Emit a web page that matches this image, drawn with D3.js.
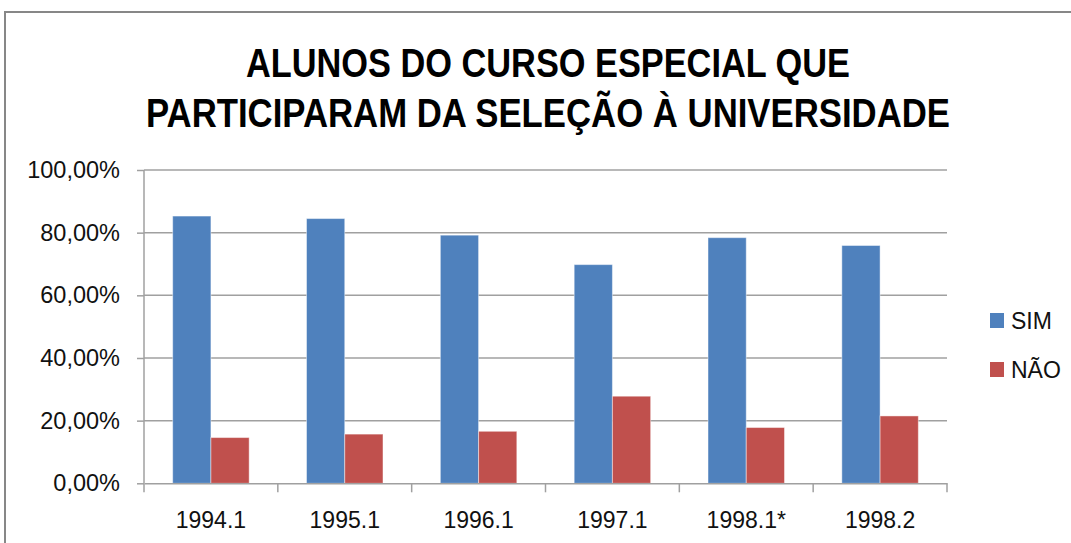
<!DOCTYPE html>
<html>
<head>
<meta charset="utf-8">
<script src="https://cdn.jsdelivr.net/npm/d3@7"></script>
<style>
  body { margin: 0; background: #fff; }
  svg { display: block; font-family: "Liberation Sans", Arial, sans-serif; }
</style>
</head>
<body>
<div id="chart"></div>
<script>
// data (percent)
const categories = ["1994.1", "1995.1", "1996.1", "1997.1", "1998.1*", "1998.2"];
const seriesNames = ["SIM", "NÃO"];
const simValues = [85.3, 84.5, 79.2, 69.8, 78.4, 75.9];
const naoValues = [14.6, 15.7, 16.6, 27.8, 17.8, 21.5];
const yTicks = [0, 20, 40, 60, 80, 100];
const titleLines = ["ALUNOS DO CURSO ESPECIAL QUE", "PARTICIPARAM DA SELEÇÃO À UNIVERSIDADE"];

const colors = { "SIM": "#4f81bd", "NÃO": "#c0504d" };
const W = 1071, H = 543;
const plot = { left: 144, right: 947, top: 170, bottom: 483.3 };

const svg = d3.select("#chart").append("svg")
  .attr("width", W)
  .attr("height", H);

// outer chart border
svg.append("rect")
  .attr("x", 5).attr("y", 12)
  .attr("width", W + 20).attr("height", H + 20)
  .attr("fill", "#fff")
  .attr("stroke", "#878787")
  .attr("stroke-width", 2);

// title, two lines centred over the chart
const titleWidth = [604, 804];
const titleY = [77, 127];
svg.selectAll("text.title")
  .data(titleLines)
  .enter()
  .append("text")
  .attr("class", "title")
  .attr("x", 548)
  .attr("y", (d, i) => titleY[i])
  .attr("text-anchor", "middle")
  .attr("textLength", (d, i) => titleWidth[i])
  .attr("lengthAdjust", "spacingAndGlyphs")
  .style("font-size", "40px")
  .style("font-weight", "bold")
  .style("fill", "#000")
  .text(d => d);

// scales
const x = d3.scaleBand().domain(categories).range([plot.left, plot.right]).paddingInner(0).paddingOuter(0);
const xs = d3.scaleBand().domain(seriesNames).range([0, x.bandwidth()]).paddingInner(0).paddingOuter(0.75);
const y = d3.scaleLinear().domain([0, 100]).range([plot.bottom, plot.top]);

const fmt = v => d3.format(".2f")(v).replace(".", ",") + "%";

// y axis ticks and labels
const yAxis = svg.append("g")
  .attr("transform", "translate(" + plot.left + ",0)")
  .call(d3.axisLeft(y).tickValues(yTicks).tickSize(7).tickPadding(17).tickFormat(fmt));
yAxis.select(".domain").remove();
yAxis.selectAll(".tick line").attr("stroke", "#a0a0a0").attr("stroke-width", 1.5);
yAxis.selectAll(".tick text")
  .style("font-size", "23.5px")
  .style("font-family", "'Liberation Sans', Arial, sans-serif")
  .attr("fill", "#111");

// gridlines
svg.append("g")
  .selectAll("line")
  .data(yTicks.filter(d => d > 0))
  .enter()
  .append("line")
  .attr("x1", plot.left).attr("x2", plot.right)
  .attr("y1", d => y(d)).attr("y2", d => y(d))
  .attr("stroke", "#a0a0a0")
  .attr("stroke-width", 1.5);

// left axis line
svg.append("line")
  .attr("x1", plot.left).attr("x2", plot.left)
  .attr("y1", plot.top).attr("y2", plot.bottom)
  .attr("stroke", "#a0a0a0").attr("stroke-width", 1.5);

// bars
const rows = categories.map((c, i) => ({ cat: c, values: [
  { key: "SIM", value: simValues[i] },
  { key: "NÃO", value: naoValues[i] }
] }));

svg.append("g")
  .selectAll("g")
  .data(rows)
  .enter()
  .append("g")
  .attr("transform", d => "translate(" + x(d.cat) + ",0)")
  .selectAll("rect")
  .data(d => d.values)
  .enter()
  .append("rect")
  .attr("x", d => xs(d.key))
  .attr("y", d => y(d.value))
  .attr("width", xs.bandwidth())
  .attr("height", d => y(0) - y(d.value))
  .attr("fill", d => colors[d.key])
  .attr("stroke", "rgba(255,255,255,0.45)")
  .attr("stroke-width", 1);

// x axis
const xAxis = svg.append("g")
  .attr("transform", "translate(0," + plot.bottom + ")")
  .call(d3.axisBottom(x).tickSize(0).tickPadding(28));
xAxis.select(".domain").attr("stroke", "#a0a0a0").attr("stroke-width", 1.5);
xAxis.selectAll(".tick text")
  .style("font-size", "23px")
  .style("font-family", "'Liberation Sans', Arial, sans-serif")
  .attr("fill", "#111");

// category boundary ticks
const bounds = categories.map(c => x(c)).concat([plot.right]);
xAxis.append("g")
  .selectAll("line")
  .data(bounds)
  .enter()
  .append("line")
  .attr("x1", d => d).attr("x2", d => d)
  .attr("y1", 0).attr("y2", 9)
  .attr("stroke", "#a0a0a0").attr("stroke-width", 1.5);

// legend
const legend = svg.append("g").attr("transform", "translate(990,313)");
const li = legend.selectAll("g")
  .data(seriesNames)
  .enter()
  .append("g")
  .attr("transform", (d, i) => "translate(0," + i * 49 + ")");
li.append("rect")
  .attr("width", 14).attr("height", 15)
  .attr("fill", d => colors[d]);
li.append("text")
  .attr("x", 21).attr("y", 15.5)
  .style("font-size", "23px")
  .attr("fill", "#111")
  .text(d => d);
</script>
</body>
</html>
